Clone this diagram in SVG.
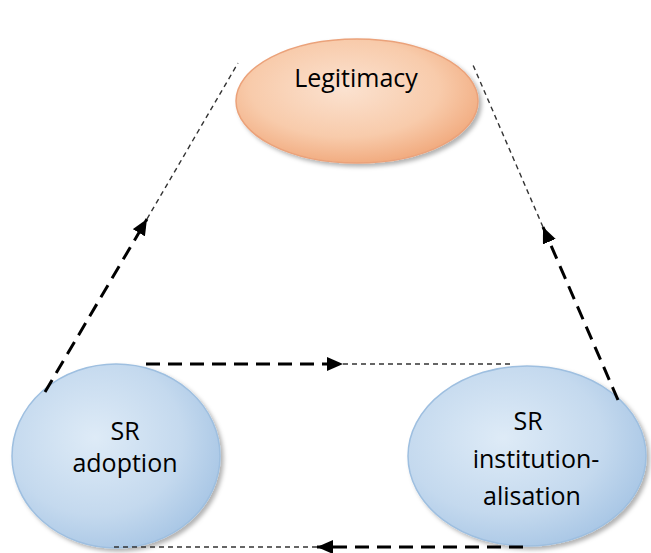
<svg xmlns="http://www.w3.org/2000/svg" width="651" height="553" viewBox="0 0 651 553">
  <defs>
    <radialGradient id="gOrange" cx="0.45" cy="0.4" r="0.65">
      <stop offset="0" stop-color="#fbe2d0"/>
      <stop offset="0.6" stop-color="#f8cbab"/>
      <stop offset="1" stop-color="#f0a577"/>
    </radialGradient>
    <radialGradient id="gBlue" cx="0.4" cy="0.4" r="0.7">
      <stop offset="0" stop-color="#deebf7"/>
      <stop offset="0.6" stop-color="#c4d9ee"/>
      <stop offset="1" stop-color="#a2c2e3"/>
    </radialGradient>
    <filter id="shadow" x="-10%" y="-10%" width="125%" height="125%">
      <feDropShadow dx="3" dy="3" stdDeviation="2" flood-color="#000" flood-opacity="0.3"/>
    </filter>
    <marker id="arrow" markerUnits="userSpaceOnUse" markerWidth="18" markerHeight="14" refX="16" refY="7" orient="auto">
      <path d="M0,0 L16,7 L0,14 Z" fill="#000"/>
    </marker>
  </defs>
  <style>
    .label { font-family: "Open Sans", "Liberation Sans", sans-serif; font-size: 25px; font-weight: 500; fill: #000; text-anchor: middle; }
    .thick { stroke: #000; stroke-width: 3; stroke-dasharray: 14 8; fill: none; }
    .thin { stroke: #333; stroke-width: 1.4; stroke-dasharray: 5 4; fill: none; }
  </style>

  <g id="legitimacy">
    <ellipse cx="357" cy="101" rx="121" ry="62" fill="url(#gOrange)" stroke="#eba27a" stroke-width="1.5" filter="url(#shadow)"/>
    <text class="label" x="356" y="87">Legitimacy</text>
  </g>

  <g id="sr-adoption">
    <ellipse cx="116" cy="456" rx="104" ry="92" fill="url(#gBlue)" stroke="#9ebfe0" stroke-width="1.5" filter="url(#shadow)"/>
    <text class="label" x="125" y="440">SR</text>
    <text class="label" x="125" y="472">adoption</text>
  </g>

  <g id="sr-institutionalisation">
    <ellipse cx="527" cy="456" rx="119" ry="90" fill="url(#gBlue)" stroke="#9ebfe0" stroke-width="1.5" filter="url(#shadow)"/>
    <text class="label" x="528" y="430">SR</text>
    <text class="label" x="536" y="468">institution-</text>
    <text class="label" x="532" y="505">alisation</text>
  </g>

  <g id="connectors">
    <!-- adoption to legitimacy -->
    <line class="thick" x1="45" y1="392" x2="147" y2="219" marker-end="url(#arrow)"/>
    <line class="thin" x1="147" y1="219" x2="238" y2="63"/>
    <!-- institutionalisation to legitimacy -->
    <line class="thick" x1="618" y1="400" x2="543" y2="227" marker-end="url(#arrow)"/>
    <line class="thin" x1="543" y1="227" x2="473" y2="65"/>
    <!-- adoption to institutionalisation -->
    <line class="thick" x1="146" y1="364" x2="343" y2="364" marker-end="url(#arrow)"/>
    <line class="thin" x1="343" y1="364" x2="514" y2="364"/>
    <!-- institutionalisation to adoption -->
    <line class="thick" x1="523" y1="547" x2="317" y2="547" marker-end="url(#arrow)"/>
    <line class="thin" x1="317" y1="547" x2="112" y2="547"/>
  </g>
</svg>
